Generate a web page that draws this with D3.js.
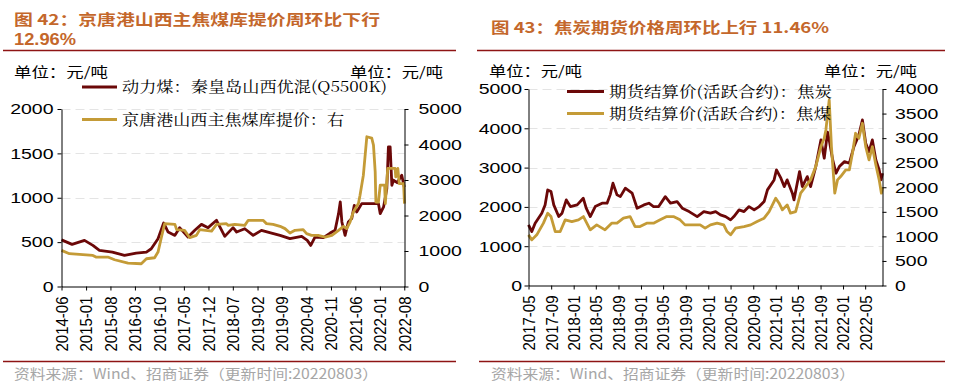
<!DOCTYPE html>
<html><head><meta charset="utf-8">
<script src="https://cdn.jsdelivr.net/npm/d3@7"></script>
<style>body{margin:0;background:#fff;}svg{display:block}</style>
</head><body>
<svg id="c" width="954" height="387"></svg>
<script>
// ---------- DATA ----------
// Left chart: 动力煤 (left axis, 元/吨)
const thermalDates = ["2014-06-01","2014-09-01","2014-12-18","2015-03-01","2015-04-27","2015-08-18","2015-12-01","2016-03-12","2016-06-09","2016-07-21","2016-09-18","2016-11-06","2016-12-15","2017-02-12","2017-03-25","2017-06-06","2017-08-04","2017-10-01","2017-11-28","2018-02-09","2018-04-22","2018-07-03","2018-08-03","2018-10-13","2018-12-25","2019-03-07","2019-06-03","2019-08-16","2019-11-10","2020-02-20","2020-04-09","2020-05-09","2020-06-15","2020-08-27","2020-10-25","2020-12-07","2021-01-06","2021-01-21","2021-02-04","2021-03-04","2021-04-01","2021-05-01","2021-05-23","2021-06-13","2021-07-27","2021-12-19","2022-01-04","2022-02-02","2022-03-02","2022-03-16","2022-03-31","2022-04-15","2022-04-29","2022-05-31","2022-07-10","2022-08-01"];
const thermalValues = [525,475,520,463,407,388,350,377,388,425,539,716,614,576,663,557,633,700,663,746,565,663,614,651,576,633,602,576,539,565,520,463,557,550,602,633,821,953,727,576,727,765,915,840,934,934,821,896,1100,1574,1574,1141,1198,1170,1254,1122];
// Left chart: 京唐港山西主焦煤库提价 (right axis)
const cokingDates = ["2014-06-01","2014-08-09","2015-03-01","2015-03-28","2015-07-09","2015-09-06","2016-01-01","2016-04-25","2016-06-09","2016-08-19","2016-09-18","2016-10-18","2016-11-15","2017-02-12","2017-02-27","2017-05-07","2017-06-21","2017-08-18","2017-09-16","2017-12-28","2018-02-09","2018-05-06","2018-05-20","2018-07-18","2018-10-13","2018-11-12","2019-03-21","2019-04-20","2019-06-16","2019-08-16","2019-09-28","2019-11-10","2019-12-24","2020-03-04","2020-04-03","2020-05-16","2020-07-12","2020-09-11","2020-11-09","2021-01-06","2021-02-18","2021-03-18","2021-04-16","2021-05-15","2021-06-28","2021-07-12","2021-08-10","2021-09-09","2021-10-22","2021-11-06","2021-11-21","2021-11-27","2021-12-19","2022-01-04","2022-02-11","2022-02-17","2022-03-10","2022-05-13","2022-05-19","2022-06-06","2022-06-18","2022-07-26","2022-08-03"];
const cokingValues = [1017,924,876,829,829,754,659,641,782,810,970,1393,1771,1751,1601,1582,1375,1441,1601,1562,1751,1771,1723,1751,1723,1864,1864,1771,1751,1695,1630,1506,1582,1601,1488,1441,1441,1393,1441,1582,1695,1630,1816,2099,2336,2571,3136,4218,4180,3983,3229,2381,2381,2853,2853,2336,3325,3325,3088,3325,2900,2900,2336];
const leftTickLabels = ["2014-06","2015-01","2015-08","2016-03","2016-10","2017-05","2017-12","2018-07","2019-02","2019-09","2020-04","2020-11","2021-06","2022-01","2022-08"];

// Right chart: 期货结算价(活跃合约):焦炭 (left axis)
const cokeDates = ["2017-05-01","2017-05-19","2017-06-06","2017-07-12","2017-07-30","2017-08-13","2017-08-31","2017-09-15","2017-10-12","2017-10-30","2017-11-22","2017-12-14","2018-01-20","2018-02-22","2018-03-10","2018-04-01","2018-04-28","2018-06-04","2018-07-01","2018-07-18","2018-08-02","2018-08-24","2018-09-11","2018-10-08","2018-11-14","2018-12-11","2019-01-17","2019-02-13","2019-03-10","2019-04-07","2019-05-13","2019-06-10","2019-07-16","2019-08-13","2019-09-19","2019-11-02","2019-12-08","2020-01-13","2020-02-10","2020-03-07","2020-04-04","2020-05-01","2020-05-19","2020-06-16","2020-07-13","2020-08-09","2020-09-06","2020-10-03","2020-10-30","2020-11-17","2020-12-23","2021-01-05","2021-01-29","2021-02-16","2021-03-04","2021-04-01","2021-04-10","2021-04-24","2021-05-10","2021-05-25","2021-06-21","2021-07-09","2021-08-06","2021-09-03","2021-09-21","2021-10-09","2021-10-18","2021-11-06","2021-11-24","2021-12-12","2022-01-09","2022-02-04","2022-03-01","2022-03-28","2022-04-16","2022-05-04","2022-05-22","2022-06-09","2022-06-28","2022-07-16","2022-07-26","2022-08-03"];
const cokeValues = [1543,1373,1586,1840,2051,2433,2390,2051,1754,1840,2178,2008,2051,2221,1967,1754,2008,2094,2094,2306,2603,2306,2262,2476,2349,1967,2051,2094,2008,2008,2262,2094,2135,1967,1881,1754,1881,1840,1881,1797,1754,1670,1754,1924,1881,2008,1924,2008,2135,2433,2687,2941,2730,2517,2687,2349,2178,2517,2898,2517,2771,2517,3025,3704,3238,3900,3704,3195,2857,3025,3152,3110,3533,3831,4212,3619,3406,3704,3195,2941,2690,2857];
// Right chart: 期货结算价(活跃合约):焦煤 (right axis)
const cokingFutDates = ["2017-05-01","2017-05-19","2017-06-15","2017-07-21","2017-08-13","2017-08-31","2017-09-23","2017-10-20","2017-11-16","2017-12-22","2018-01-27","2018-02-23","2018-04-01","2018-05-06","2018-06-20","2018-07-26","2018-08-24","2018-09-28","2018-11-03","2018-11-30","2018-12-27","2019-02-01","2019-03-10","2019-04-15","2019-05-21","2019-06-26","2019-08-01","2019-08-28","2019-10-12","2019-11-18","2019-12-15","2020-01-13","2020-02-18","2020-03-25","2020-04-12","2020-05-01","2020-05-28","2020-07-13","2020-08-18","2020-09-22","2020-10-30","2020-11-26","2021-01-01","2021-01-19","2021-02-06","2021-03-04","2021-03-22","2021-04-19","2021-05-16","2021-06-12","2021-07-09","2021-08-06","2021-09-03","2021-09-21","2021-09-30","2021-10-18","2021-10-30","2021-11-17","2021-12-02","2021-12-19","2022-01-16","2022-02-04","2022-02-21","2022-03-10","2022-03-28","2022-04-16","2022-05-04","2022-05-22","2022-06-09","2022-06-28","2022-07-16","2022-07-28","2022-08-03"];
const cokingFutValues = [1031,929,1031,1269,1472,1403,1098,1098,1336,1302,1336,1403,1133,1234,1133,1269,1269,1371,1403,1200,1200,1269,1269,1336,1403,1403,1336,1234,1234,1234,1167,1234,1269,1234,1098,1031,1167,1200,1234,1302,1371,1505,1777,1676,1540,1641,1472,1505,1879,2013,2150,2420,2827,2998,3167,3777,2827,1879,2150,2217,2353,2353,2693,3099,2998,3303,2827,2556,2827,2455,2150,1879,2000];
const rightTickLabels = ["2017-05","2017-09","2018-01","2018-05","2018-09","2019-01","2019-05","2019-09","2020-01","2020-05","2020-09","2021-01","2021-05","2021-09","2022-01","2022-05"];

const leftLeftTicks = [0,500,1000,1500,2000];
const leftRightTicks = [0,1000,2000,3000,4000,5000];
const rightLeftTicks = [0,1000,2000,3000,4000,5000];
const rightRightTicks = [0,500,1000,1500,2000,2500,3000,3500,4000];

// ---------- STYLE ----------
const RED = "#6B0808", GOLD = "#C49B37", TITLE = "#C4672B", RULE = "#8E1414", SRC = "#A6A6A6";
const NUM = "'Liberation Sans', Arial, sans-serif";
const CJK = "'Noto Sans CJK SC', sans-serif";
const SERIF = "'Noto Serif CJK SC', 'Noto Sans CJK SC', 'Liberation Serif', serif";
const SX = 1.3;     // horizontal stretch of tick numbers
const SXR = 1.08;   // stretch for rotated date labels

const svg = d3.select("#c");
const pd = d3.timeParse("%Y-%m-%d");
const pm = d3.timeParse("%Y-%m");

function txt(x, y, s, o) {
  const t = svg.append("text").attr("x", x).attr("y", y).text(s)
    .attr("font-family", o.family || CJK).attr("font-size", o.size)
    .attr("fill", o.color || "#000");
  if (o.weight) t.attr("font-weight", o.weight);
  if (o.len) t.attr("textLength", o.len).attr("lengthAdjust", "spacingAndGlyphs");
  return t;
}
function rule(x1, x2, y) {
  svg.append("line").attr("x1", x1).attr("x2", x2).attr("y1", y).attr("y2", y)
    .attr("stroke", RULE).attr("stroke-width", 1.3);
}
function zip(ds, vs) { return ds.map((d, i) => ({ date: pd(d), v: vs[i] })); }

function chart(c) {
  const x = d3.scaleTime().domain(c.xDomain.map(pd)).range([c.x0, c.x1]);
  const yL = d3.scaleLinear().domain([0, c.lMax]).range([c.y0, c.y1]);
  const yR = d3.scaleLinear().domain([0, c.rMax]).range([c.y0, c.y1]);
  const g = svg.append("g");
  g.selectAll(null).data(c.lTicks.filter(v => v > 0)).join("line")
    .attr("x1", c.x0).attr("x2", c.x1)
    .attr("y1", d => Math.round(yL(d)) + 0.5).attr("y2", d => Math.round(yL(d)) + 0.5)
    .attr("stroke", "#e4e4e4").attr("stroke-dasharray", "9,5");
  const ln = ys => d3.line().x(d => x(d.date)).y(d => ys(d.v));
  g.append("path").datum(c.s1).attr("d", ln(yL)).attr("fill", "none")
    .attr("stroke", RED).attr("stroke-width", 2.8).attr("stroke-linejoin", "round");
  g.append("path").datum(c.s2).attr("d", ln(yR)).attr("fill", "none")
    .attr("stroke", GOLD).attr("stroke-width", 2.8).attr("stroke-linejoin", "round");

  const aL = g.append("g").attr("transform", `translate(${c.x0},0)`)
    .call(d3.axisLeft(yL).tickValues(c.lTicks).tickSize(4).tickSizeOuter(0).tickFormat(d3.format("d")));
  aL.selectAll("text").attr("transform", `scale(${SX},1)`).attr("x", -c.lGap / SX);
  const aR = g.append("g").attr("transform", `translate(${c.x1},0)`)
    .call(d3.axisRight(yR).tickValues(c.rTicks).tickSize(4).tickSizeOuter(0).tickFormat(d3.format("d")));
  aR.selectAll("text").attr("transform", `scale(${SX},1)`).attr("x", c.rGap / SX);
  const aB = g.append("g").attr("transform", `translate(0,${c.y0})`)
    .call(d3.axisBottom(x).tickValues(c.xTicks.map(pm)).tickSize(4).tickSizeOuter(0).tickFormat(d3.timeFormat("%Y-%m")));
  aB.selectAll("text").attr("x", 0).attr("y", 0).attr("dy", "0.36em")
    .attr("text-anchor", "end")
    .attr("transform", `translate(0,10) scale(${SXR},1) rotate(-90)`);
  [aL, aR, aB].forEach(a => {
    a.selectAll("text").attr("font-family", NUM).attr("font-size", 15).attr("fill", "#000");
    a.selectAll("path,line").attr("stroke", "#000").attr("stroke-width", 1);
  });
  c.legend.forEach(l => {
    svg.append("line").attr("x1", l.x1).attr("x2", l.x2).attr("y1", l.y).attr("y2", l.y)
      .attr("stroke", l.color).attr("stroke-width", 3);
    txt(l.tx, l.ty, l.text, { family: SERIF, size: 15, len: l.len });
  });
}

// ---------- TITLES / FRAME ----------
txt(14, 25, "图 42：京唐港山西主焦煤库提价周环比下行", { size: 15, weight: "bold", color: TITLE, len: 366 });
txt(14, 45, "12.96%", { family: NUM, size: 17, weight: "bold", color: TITLE, len: 62 });
txt(491, 33, "图 43：焦炭期货价格周环比上行 11.46%", { size: 15, weight: "bold", color: TITLE, len: 338 });
rule(3, 456, 50.5); rule(477, 945, 50.5);
rule(3, 456, 361.5); rule(479, 945, 361.5);

txt(14, 77, "单位：元/吨", { size: 13.5, len: 94 });
txt(350, 77, "单位：元/吨", { size: 13.5, len: 93 });
txt(489, 76, "单位：元/吨", { size: 13.5, len: 93 });
txt(824, 76, "单位：元/吨", { size: 13.5, len: 93 });

txt(14, 379, "资料来源：Wind、招商证券（更新时间:20220803）", { size: 14, color: SRC, len: 364 });
txt(491, 379, "资料来源：Wind、招商证券（更新时间:20220803）", { size: 14, color: SRC, len: 364 });

// ---------- CHARTS ----------
chart({
  xDomain: ["2014-06-01", "2022-08-03"], x0: 61.5, x1: 404.5, y0: 286.5, y1: 109,
  lMax: 2000, rMax: 5000, lTicks: leftLeftTicks, rTicks: leftRightTicks,
  lGap: 8, rGap: 14, xTicks: leftTickLabels,
  s1: zip(thermalDates, thermalValues), s2: zip(cokingDates, cokingValues),
  legend: [
    { x1: 82, x2: 117, y: 87, color: RED, tx: 122, ty: 92, text: "动力煤：秦皇岛山西优混(Q5500K)", len: 265 },
    { x1: 82, x2: 117, y: 119.5, color: GOLD, tx: 122, ty: 125, text: "京唐港山西主焦煤库提价：右", len: 222 }
  ]
});
chart({
  xDomain: ["2017-05-01", "2022-08-03"], x0: 528.5, x1: 882.5, y0: 285.5, y1: 89,
  lMax: 5000, rMax: 4000, lTicks: rightLeftTicks, rTicks: rightRightTicks,
  lGap: 6.5, rGap: 12.5, xTicks: rightTickLabels,
  s1: zip(cokeDates, cokeValues), s2: zip(cokingFutDates, cokingFutValues),
  legend: [
    { x1: 567, x2: 604, y: 91.5, color: RED, tx: 609, ty: 97, text: "期货结算价(活跃合约)：焦炭", len: 223 },
    { x1: 567, x2: 604, y: 113.5, color: GOLD, tx: 609, ty: 119, text: "期货结算价(活跃合约)：焦煤", len: 222 }
  ]
});
</script>
</body></html>
